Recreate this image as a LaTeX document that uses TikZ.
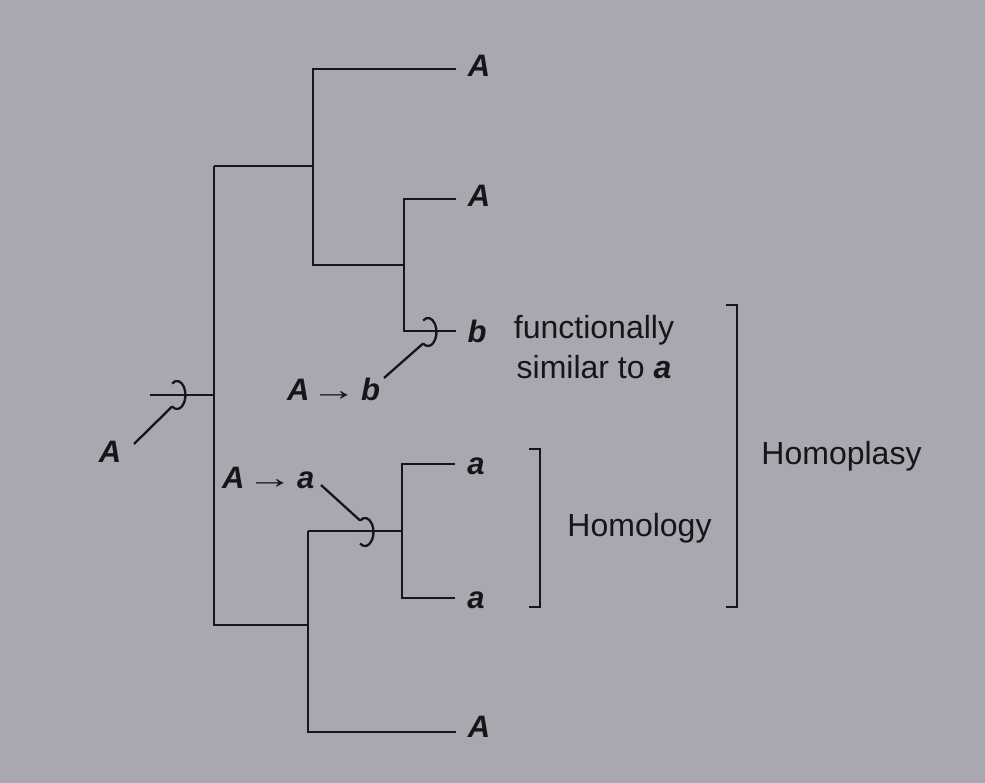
\documentclass[tikz,border=0pt]{standalone}
\usepackage{fontspec}
\usepackage{graphicx}
\setmainfont{Liberation Sans}
\usetikzlibrary{calc}
\definecolor{bg}{HTML}{A9A8B1}
\definecolor{ink}{HTML}{161518}
\newcommand{\longarr}{{\upshape\bfseries\scalebox{1.5}[1]{→}}}
\begin{document}
\begin{tikzpicture}[x=1pt,y=-1pt,
  branch/.style={draw=ink,line width=2.8pt},
  ptr/.style={draw=ink,line width=2.3pt},
  taxon/.style={font=\fontsize{31}{34}\selectfont\bfseries\itshape,text=ink,inner sep=0pt,anchor=base},
  plain/.style={font=\fontsize{32}{40}\selectfont,text=ink,inner sep=0pt,anchor=base},
  ring/.style={draw=ink,line width=2.3pt}]
\fill[bg] (0,0) rectangle (985,783);
\useasboundingbox (0,0) rectangle (985,783);

% tree coordinates
\coordinate (n1) at (313,69);   \coordinate (e1) at (456,69);
\coordinate (n2a) at (214,166); \coordinate (n2b) at (313,166);
\coordinate (n3a) at (313,265); \coordinate (n3b) at (404,265);
\coordinate (n4) at (404,199);  \coordinate (e2) at (456,199);
\coordinate (n5) at (404,331);  \coordinate (e3) at (456,331);
\coordinate (r0) at (150,395);  \coordinate (r1) at (214,395);
\coordinate (n6a) at (214,625); \coordinate (n6b) at (308,625);
\coordinate (n7a) at (308,531); \coordinate (n7b) at (402,531);
\coordinate (n8) at (402,464);  \coordinate (e4) at (455,464);
\coordinate (n9) at (402,598);  \coordinate (e5) at (455,598);
\coordinate (n10) at (308,732); \coordinate (e6) at (456,732);

% tree
\draw[branch] (e1) -- (n1) -- (n3a) -- (n3b);
\draw[branch] (n2a) -- (n2b);
\draw[branch] (e2) -- (n4) -- (n5) -- (e3);
\draw[branch] (n2a) -- (n6a) -- (n6b);
\draw[branch] (r0) -- (r1);
\draw[branch] (n7a) -- (n7b);
\draw[branch] (e4) -- (n8) -- (n9) -- (e5);
\draw[branch] (n7a) -- (n10) -- (e6);

% rings
\coordinate (ringR) at (177,395);
\coordinate (ringB) at (428,332);
\coordinate (ringA) at (365,532);
\foreach \c in {ringR,ringB,ringA}{
  \draw[ring] ($(\c)+(125:8.5pt and 14pt)$) arc[start angle=125,end angle=-125,x radius=8.5pt,y radius=14pt];
}

% labels
\node[taxon] (tA1) at (479,77) {A};
\node[taxon] (tA2) at (479,207) {A};
\node[taxon] (tb) at (477,343) {b};
\node[plain,align=center] (func) at (594,379) {functionally\\similar to \textbf{\textit{a}}};
\node[taxon] (ta1) at (476,474) {a};
\node[taxon] (ta2) at (476,608) {a};
\node[taxon] (tA3) at (479,737) {A};
\node[taxon] (rootA) at (110,462) {A};
\node[taxon,anchor=base west] (Ab) at (287,400) {A\kern1pt\longarr\kern4pt b};
\node[taxon,anchor=base west] (Aa) at (222,488) {A\kern2pt\longarr\kern4pt a};
\node[plain] (homol) at (639.5,536) {Homology};
\node[plain] (homop) at (841.5,464) {Homoplasy};

% pointers
\coordinate (pR) at (134,444);
\coordinate (pB) at (384,378);
\coordinate (pA) at (321,485);
\draw[ptr] (pR) -- ($(ringR)+(-125:8.5pt and 14pt)$);
\draw[ptr] (pB) -- ($(ringB)+(-125:8.5pt and 14pt)$);
\draw[ptr] (pA) -- ($(ringA)+(125:8.5pt and 14pt)$);

% brackets
\coordinate (bs1) at (529,449); \coordinate (bs2) at (540,449);
\coordinate (bs3) at (540,607); \coordinate (bs4) at (529,607);
\draw[branch] (bs1) -- (bs2) -- (bs3) -- (bs4);
\coordinate (bb1) at (726,305); \coordinate (bb2) at (737,305);
\coordinate (bb3) at (737,607); \coordinate (bb4) at (726,607);
\draw[branch] (bb1) -- (bb2) -- (bb3) -- (bb4);
\end{tikzpicture}
\end{document}
